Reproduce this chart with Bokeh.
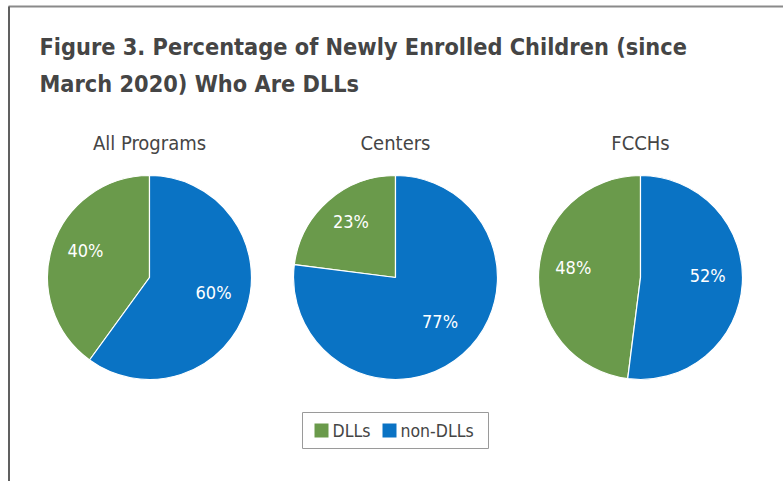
import math
from bokeh.plotting import figure
from bokeh.models import Range1d, ColumnDataSource
from bokeh.core.properties import value
from bokeh.embed import file_html
from bokeh.resources import INLINE

# ---- data ----
programs = ["All Programs", "Centers", "FCCHs"]
dll = [40, 23, 48]
non_dll = [60, 77, 52]
series = ["DLLs", "non-DLLs"]
colors = ["#6A9A4B", "#0A73C4"]
title_lines = ["Figure 3. Percentage of Newly Enrolled Children (since",
               "March 2020) Who Are DLLs"]

# ---- layout (pixel space, y up) ----
W, H = 783, 481
FONT = "DejaVu Sans Condensed"
TXT = "#454545"
cx = [149, 395, 640]
cy = H - 277
R = 102

p = figure(width=W, height=H, output_backend="svg", toolbar_location=None,
           x_range=Range1d(0, W), y_range=Range1d(0, H), min_border=0)
p.axis.visible = False
p.grid.visible = False
p.outline_line_color = None
p.background_fill_color = "white"
p.border_fill_color = "white"

# frame lines (top and left)
p.segment(x0=[8], y0=[H - 6], x1=[W], y1=[H - 6],
          line_color="#8a8a8a", line_width=2)
p.segment(x0=[8.5], y0=[H - 6], x1=[8.5], y1=[0],
          line_color="#606060", line_width=2)

# title
p.text(x=[39, 39], y=[H - 46, H - 83], text=title_lines,
       text_font=value(FONT), text_font_style="bold", text_font_size="23.3px",
       text_color=TXT, text_baseline="middle", text_align="left")

# pies
for i, prog in enumerate(programs):
    vals = [dll[i], non_dll[i]]
    total = sum(vals)
    starts, ends, lx, ly, labs = [], [], [], [], []
    a = 90.0
    for v in vals:
        s = a
        e = a + v / total * 360.0
        starts.append(s)
        ends.append(e)
        mid = math.radians((s + e) / 2)
        lx.append(cx[i] + 0.66 * R * math.cos(mid))
        ly.append(cy + 0.66 * R * math.sin(mid) + 6)
        labs.append(f"{v}%")
        a = e
    src = ColumnDataSource(dict(x=[cx[i]] * 2, y=[cy] * 2, s=starts, e=ends,
                                c=colors, lx=lx, ly=ly, lab=labs))
    p.wedge(x="x", y="y", radius=R, start_angle="s", end_angle="e",
            start_angle_units="deg", end_angle_units="deg",
            fill_color="c", line_color="white", line_width=1.2, source=src)
    p.text(x="lx", y="ly", text="lab", source=src, text_font=value(FONT),
           text_font_size="18px", text_color="white",
           text_align="center", text_baseline="middle")
    p.text(x=[cx[i]], y=[H - 142], text=[prog], text_font=value(FONT),
           text_font_size="20px", text_color=TXT,
           text_align="center", text_baseline="middle")

# legend
p.quad(left=[302], right=[488], bottom=[H - 448], top=[H - 412],
       fill_color="white", line_color="#9a9a9a", line_width=1)
sq_x = [314, 382]
p.quad(left=sq_x, right=[x + 14 for x in sq_x], bottom=[H - 437] * 2,
       top=[H - 423] * 2, fill_color=colors, line_color=None)
p.text(x=[x + 18 for x in sq_x], y=[H - 430] * 2, text=series,
       text_font=value(FONT), text_font_size="17.5px", text_color=TXT,
       text_align="left", text_baseline="middle")

open("out.html", "w").write(file_html(p, INLINE))
